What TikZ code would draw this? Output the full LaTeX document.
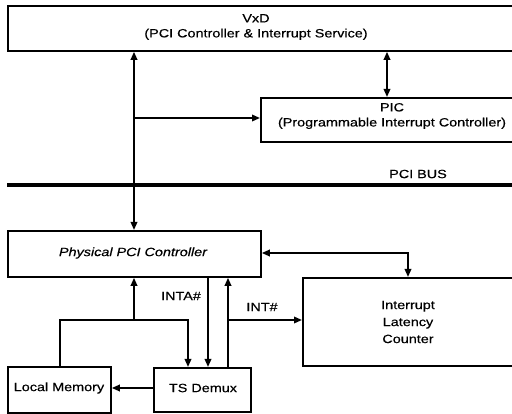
\documentclass[tikz,border=0pt]{standalone}
\usepackage{fontspec}
\setmainfont{Liberation Sans}[FakeStretch=1.2,FakeBold=0.4]
\usetikzlibrary{arrows.meta}
\begin{document}
\begin{tikzpicture}[x=1pt,y=-1pt,
  box/.style={draw,line width=1.8pt,rectangle,inner sep=0pt,anchor=north west},
  lbl/.style={font=\fontsize{12}{15}\selectfont,align=center,inner sep=0pt},
  conn/.style={line width=1.8pt},
  tip/.style={-{Triangle[length=8pt,width=6.5pt]}},
  tips/.style={{Triangle[length=8pt,width=6.5pt]}-{Triangle[length=8pt,width=6.5pt]}}]
\useasboundingbox (0,0) rectangle (512,414);
\clip (0,0) rectangle (512,414);
% boxes
\node[box,minimum width=515pt,minimum height=45pt] (vxd) at (7,5) {};
\node[box,minimum width=262pt,minimum height=44pt] (pic) at (260,97) {};
\node[box,minimum width=253pt,minimum height=46pt] (ppc) at (7,230) {};
\node[box,minimum width=220pt,minimum height=88pt] (ilc) at (302,277) {};
\node[box,minimum width=103pt,minimum height=46pt] (lm) at (7,366) {};
\node[box,minimum width=97pt,minimum height=44pt] (tsd) at (153,367) {};
% texts
\node[lbl] (vxdt) at (256,27) {VxD\\(PCI Controller \& Interrupt Service)};
\node[lbl] (pict) at (392,116) {PIC\\(Programmable Interrupt Controller)};
\node[lbl,font=\fontsize{12}{15}\selectfont\itshape] (ppct) at (133,253) {Physical PCI Controller};
\node[lbl,font=\fontsize{12}{17}\selectfont] (ilct) at (408,322) {Interrupt\\Latency\\Counter};
\node[lbl] (lmt) at (59,388) {Local Memory};
\node[lbl] (tsdt) at (203,388) {TS Demux};
\node[lbl] (bust) at (418,174) {PCI BUS};
\node[lbl] (intat) at (181,296) {INTA\#};
\node[lbl] (intt) at (262,307) {INT\#};
% bus
\coordinate (busl) at (7,185);
\coordinate (busr) at (512,185);
\draw[line width=3.5pt] (busl) -- (busr);
% x positions
\coordinate (xa) at (134,0);
\coordinate (xb) at (387,0);
\coordinate (xc) at (408,0);
\coordinate (xd) at (60,0);
\coordinate (xe) at (188,0);
\coordinate (xf) at (208,0);
\coordinate (xg) at (228,0);
\coordinate (ya) at (0,118);
\coordinate (yb) at (0,253);
\coordinate (yc) at (0,320);
\coordinate (yd) at (0,388);
\coordinate (j1) at (xa |- ya);
\coordinate (j2) at (xa |- yc);
\coordinate (j3) at (xg |- yc);
% connectors
\draw[conn,tips] (vxd.south -| xa) -- (ppc.north -| xa);
\draw[conn,tip] (j1) -- (pic.west |- ya);
\draw[conn,tips] (vxd.south -| xb) -- (pic.north -| xb);
\draw[conn,tips] (ppc.east |- yb) -- (xc |- yb) -- (ilc.north -| xc);
\draw[conn,tip] (j2) -- (ppc.south -| xa);
\draw[conn,tip] (lm.north -| xd) -- (xd |- yc) -- (xe |- yc) -- (tsd.north -| xe);
\draw[conn,tip] (ppc.south -| xf) -- (tsd.north -| xf);
\draw[conn,tip] (tsd.north -| xg) -- (ppc.south -| xg);
\draw[conn,tip] (j3) -- (ilc.west |- yc);
\draw[conn,tip] (tsd.west |- yd) -- (lm.east |- yd);
\end{tikzpicture}
\end{document}
